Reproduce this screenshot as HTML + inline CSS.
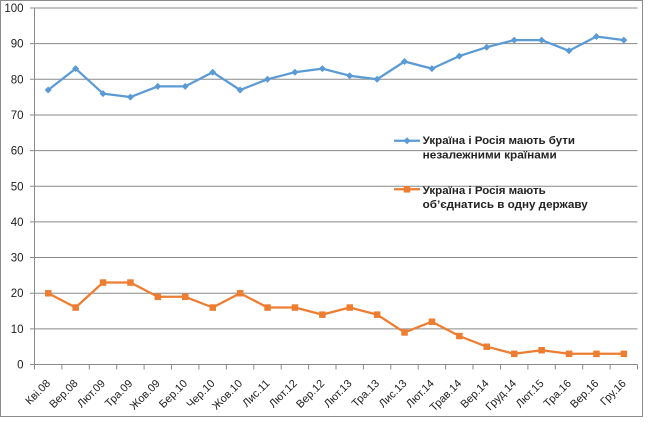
<!DOCTYPE html>
<html><head><meta charset="utf-8"><style>
html,body{margin:0;padding:0;background:#fff;}
svg{display:block;}
text{font-family:"Liberation Sans","DejaVu Sans",sans-serif;}
</style></head><body>
<svg width="653" height="428" viewBox="0 0 653 428" xmlns="http://www.w3.org/2000/svg">
<rect x="0" y="0" width="653" height="428" fill="#fff"/>
<rect x="0.5" y="0.5" width="642" height="416" fill="none" stroke="#8c8c8c" stroke-width="1"/>
<g stroke="#8a8a8a" stroke-width="1" fill="none">
<line x1="30" y1="8" x2="637.5" y2="8"/>
<line x1="30" y1="43.65" x2="637.5" y2="43.65"/>
<line x1="30" y1="79.3" x2="637.5" y2="79.3"/>
<line x1="30" y1="114.95" x2="637.5" y2="114.95"/>
<line x1="30" y1="150.6" x2="637.5" y2="150.6"/>
<line x1="30" y1="186.25" x2="637.5" y2="186.25"/>
<line x1="30" y1="221.9" x2="637.5" y2="221.9"/>
<line x1="30" y1="257.55" x2="637.5" y2="257.55"/>
<line x1="30" y1="293.2" x2="637.5" y2="293.2"/>
<line x1="30" y1="328.85" x2="637.5" y2="328.85"/>
<line x1="30" y1="364.5" x2="637.5" y2="364.5"/>
<line x1="34.5" y1="8" x2="34.5" y2="369.5"/>
<line x1="61.9" y1="364.5" x2="61.9" y2="369.5"/>
<line x1="89.3" y1="364.5" x2="89.3" y2="369.5"/>
<line x1="116.7" y1="364.5" x2="116.7" y2="369.5"/>
<line x1="144.1" y1="364.5" x2="144.1" y2="369.5"/>
<line x1="171.5" y1="364.5" x2="171.5" y2="369.5"/>
<line x1="198.9" y1="364.5" x2="198.9" y2="369.5"/>
<line x1="226.4" y1="364.5" x2="226.4" y2="369.5"/>
<line x1="253.8" y1="364.5" x2="253.8" y2="369.5"/>
<line x1="281.2" y1="364.5" x2="281.2" y2="369.5"/>
<line x1="308.6" y1="364.5" x2="308.6" y2="369.5"/>
<line x1="336.0" y1="364.5" x2="336.0" y2="369.5"/>
<line x1="363.4" y1="364.5" x2="363.4" y2="369.5"/>
<line x1="390.8" y1="364.5" x2="390.8" y2="369.5"/>
<line x1="418.2" y1="364.5" x2="418.2" y2="369.5"/>
<line x1="445.6" y1="364.5" x2="445.6" y2="369.5"/>
<line x1="473.0" y1="364.5" x2="473.0" y2="369.5"/>
<line x1="500.5" y1="364.5" x2="500.5" y2="369.5"/>
<line x1="527.9" y1="364.5" x2="527.9" y2="369.5"/>
<line x1="555.3" y1="364.5" x2="555.3" y2="369.5"/>
<line x1="582.7" y1="364.5" x2="582.7" y2="369.5"/>
<line x1="610.1" y1="364.5" x2="610.1" y2="369.5"/>
<line x1="637.5" y1="364.5" x2="637.5" y2="369.5"/>
</g>
<g font-size="11.5" fill="#222" text-anchor="end">
<text x="23.5" y="12">100</text>
<text x="23.5" y="47.7">90</text>
<text x="23.5" y="83.3">80</text>
<text x="23.5" y="119">70</text>
<text x="23.5" y="154.6">60</text>
<text x="23.5" y="190.3">50</text>
<text x="23.5" y="225.9">40</text>
<text x="23.5" y="261.6">30</text>
<text x="23.5" y="297.2">20</text>
<text x="23.5" y="332.9">10</text>
<text x="23.5" y="368.5">0</text>
</g>
<g font-size="11" fill="#222" text-anchor="end">
<text transform="translate(51,384) rotate(-45)">Кві.08</text>
<text transform="translate(78.4,384) rotate(-45)">Вер.08</text>
<text transform="translate(105.8,384) rotate(-45)">Лют.09</text>
<text transform="translate(133.2,384) rotate(-45)">Тра.09</text>
<text transform="translate(160.6,384) rotate(-45)">Жов.09</text>
<text transform="translate(188,384) rotate(-45)">Бер.10</text>
<text transform="translate(215.5,384) rotate(-45)">Чер.10</text>
<text transform="translate(242.9,384) rotate(-45)">Жов.10</text>
<text transform="translate(270.3,384) rotate(-45)">Лис.11</text>
<text transform="translate(297.7,384) rotate(-45)">Лют.12</text>
<text transform="translate(325.1,384) rotate(-45)">Вер.12</text>
<text transform="translate(352.5,384) rotate(-45)">Лют.13</text>
<text transform="translate(379.9,384) rotate(-45)">Тра.13</text>
<text transform="translate(407.3,384) rotate(-45)">Лис.13</text>
<text transform="translate(434.7,384) rotate(-45)">Лют.14</text>
<text transform="translate(462.1,384) rotate(-45)">Трав.14</text>
<text transform="translate(489.5,384) rotate(-45)">Вер.14</text>
<text transform="translate(517,384) rotate(-45)">Груд.14</text>
<text transform="translate(544.4,384) rotate(-45)">Лют.15</text>
<text transform="translate(571.8,384) rotate(-45)">Тра.16</text>
<text transform="translate(599.2,384) rotate(-45)">Вер.16</text>
<text transform="translate(626.6,384) rotate(-45)">Гру.16</text>
</g>
<!-- Blue series -->
<polyline fill="none" stroke="#5B9BD5" stroke-width="2.25" stroke-linejoin="round" points="48.2,90.0 75.6,68.6 103.0,93.6 130.4,97.1 157.8,86.4 185.2,86.4 212.7,72.2 240.1,90.0 267.5,79.3 294.9,72.2 322.3,68.6 349.7,75.7 377.1,79.3 404.5,61.5 431.9,68.6 459.3,56.1 486.7,47.2 514.2,40.1 541.6,40.1 569.0,50.8 596.4,36.5 623.8,40.1"/>
<g fill="#5B9BD5">
<path d="M48.2,86.5l3.5,3.5l-3.5,3.5l-3.5,-3.5z"/>
<path d="M75.6,65.1l3.5,3.5l-3.5,3.5l-3.5,-3.5z"/>
<path d="M103.0,90.1l3.5,3.5l-3.5,3.5l-3.5,-3.5z"/>
<path d="M130.4,93.6l3.5,3.5l-3.5,3.5l-3.5,-3.5z"/>
<path d="M157.8,82.9l3.5,3.5l-3.5,3.5l-3.5,-3.5z"/>
<path d="M185.2,82.9l3.5,3.5l-3.5,3.5l-3.5,-3.5z"/>
<path d="M212.7,68.7l3.5,3.5l-3.5,3.5l-3.5,-3.5z"/>
<path d="M240.1,86.5l3.5,3.5l-3.5,3.5l-3.5,-3.5z"/>
<path d="M267.5,75.8l3.5,3.5l-3.5,3.5l-3.5,-3.5z"/>
<path d="M294.9,68.7l3.5,3.5l-3.5,3.5l-3.5,-3.5z"/>
<path d="M322.3,65.1l3.5,3.5l-3.5,3.5l-3.5,-3.5z"/>
<path d="M349.7,72.2l3.5,3.5l-3.5,3.5l-3.5,-3.5z"/>
<path d="M377.1,75.8l3.5,3.5l-3.5,3.5l-3.5,-3.5z"/>
<path d="M404.5,58.0l3.5,3.5l-3.5,3.5l-3.5,-3.5z"/>
<path d="M431.9,65.1l3.5,3.5l-3.5,3.5l-3.5,-3.5z"/>
<path d="M459.3,52.6l3.5,3.5l-3.5,3.5l-3.5,-3.5z"/>
<path d="M486.7,43.7l3.5,3.5l-3.5,3.5l-3.5,-3.5z"/>
<path d="M514.2,36.6l3.5,3.5l-3.5,3.5l-3.5,-3.5z"/>
<path d="M541.6,36.6l3.5,3.5l-3.5,3.5l-3.5,-3.5z"/>
<path d="M569.0,47.3l3.5,3.5l-3.5,3.5l-3.5,-3.5z"/>
<path d="M596.4,33.0l3.5,3.5l-3.5,3.5l-3.5,-3.5z"/>
<path d="M623.8,36.6l3.5,3.5l-3.5,3.5l-3.5,-3.5z"/>
</g>
<!-- Orange series -->
<polyline fill="none" stroke="#ED7D31" stroke-width="2.25" stroke-linejoin="round" points="48.2,293.2 75.6,307.5 103.0,282.5 130.4,282.5 157.8,296.8 185.2,296.8 212.7,307.5 240.1,293.2 267.5,307.5 294.9,307.5 322.3,314.6 349.7,307.5 377.1,314.6 404.5,332.4 431.9,321.7 459.3,336.0 486.7,346.7 514.2,353.8 541.6,350.2 569.0,353.8 596.4,353.8 623.8,353.8"/>
<g fill="#ED7D31">
<rect x="45" y="290" width="6.5" height="6.5"/>
<rect x="72.4" y="304.3" width="6.5" height="6.5"/>
<rect x="99.8" y="279.3" width="6.5" height="6.5"/>
<rect x="127.2" y="279.3" width="6.5" height="6.5"/>
<rect x="154.6" y="293.6" width="6.5" height="6.5"/>
<rect x="182" y="293.6" width="6.5" height="6.5"/>
<rect x="209.5" y="304.3" width="6.5" height="6.5"/>
<rect x="236.9" y="290" width="6.5" height="6.5"/>
<rect x="264.3" y="304.3" width="6.5" height="6.5"/>
<rect x="291.7" y="304.3" width="6.5" height="6.5"/>
<rect x="319.1" y="311.4" width="6.5" height="6.5"/>
<rect x="346.5" y="304.3" width="6.5" height="6.5"/>
<rect x="373.9" y="311.4" width="6.5" height="6.5"/>
<rect x="401.3" y="329.2" width="6.5" height="6.5"/>
<rect x="428.7" y="318.5" width="6.5" height="6.5"/>
<rect x="456.1" y="332.8" width="6.5" height="6.5"/>
<rect x="483.5" y="343.5" width="6.5" height="6.5"/>
<rect x="511" y="350.6" width="6.5" height="6.5"/>
<rect x="538.4" y="347" width="6.5" height="6.5"/>
<rect x="565.8" y="350.6" width="6.5" height="6.5"/>
<rect x="593.2" y="350.6" width="6.5" height="6.5"/>
<rect x="620.6" y="350.6" width="6.5" height="6.5"/>
</g>
<!-- Legend -->
<line x1="394" y1="140.7" x2="420" y2="140.7" stroke="#5B9BD5" stroke-width="2.25"/>
<path d="M407,137.2l3.5,3.5l-3.5,3.5l-3.5,-3.5z" fill="#5B9BD5"/>
<line x1="394" y1="189.3" x2="420" y2="189.3" stroke="#ED7D31" stroke-width="2.25"/>
<rect x="403.75" y="186.05" width="6.5" height="6.5" fill="#ED7D31"/>
<g font-size="11" font-weight="bold" fill="#222" style="white-space:pre">
<text x="422.7" y="144" textLength="152.3" lengthAdjust="spacingAndGlyphs">Україна  і Росія  мають  бути</text>
<text x="422.7" y="158.5" textLength="134" lengthAdjust="spacingAndGlyphs">незалежними країнами</text>
<text x="422.7" y="194" textLength="123" lengthAdjust="spacingAndGlyphs">Україна  і Росія  мають</text>
<text x="422.7" y="208" textLength="165" lengthAdjust="spacingAndGlyphs">об’єднатись  в одну державу</text>
</g>
</svg>
</body></html>
